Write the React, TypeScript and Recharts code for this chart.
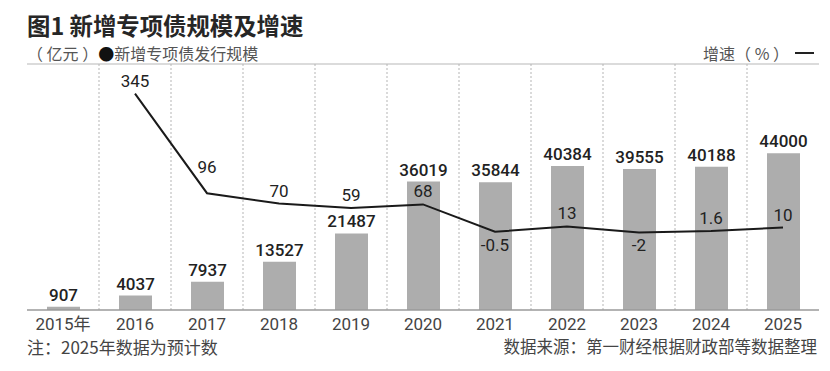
import React from 'react';
import { ComposedChart, Bar, Line, XAxis, YAxis, ReferenceLine, LabelList } from 'recharts';

const categories = ['2015年', '2016', '2017', '2018', '2019', '2020', '2021', '2022', '2023', '2024', '2025'];
const issuance = [907, 4037, 7937, 13527, 21487, 36019, 35844, 40384, 39555, 40188, 44000];
const growth: (number | null)[] = [null, 345, 96, 70, 59, 68, -0.5, 13, -2, 1.6, 10];

const data = categories.map((c, i) => ({ year: c, issuance: issuance[i], growth: growth[i] }));

const NUM_FONT = "Roboto, 'Noto Sans CJK SC', sans-serif";
const CJK_FONT = "'Noto Sans CJK SC', 'Noto Sans', sans-serif";

const GrowthLabel = (props: any) => {
  const { x, y, value } = props;
  if (value == null || x == null || y == null) return null;
  let dy = -7;
  if (value < 0) dy = 19;
  else if (value === 96) dy = -20;
  return (
    <text x={x} y={y + dy} textAnchor="middle" fontFamily={NUM_FONT} fontSize={17} fill="#222">
      {value}
    </text>
  );
};

export default function App() {
  return (
    <div style={{ position: 'absolute', left: 0, top: 0, width: 830, height: 371, background: '#fff', overflow: 'hidden' }}>
      <div style={{ position: 'absolute', left: 27, top: 14, fontFamily: CJK_FONT, fontSize: 23.4, lineHeight: '23px', fontWeight: 700, color: '#262626', whiteSpace: 'nowrap' }}>
        图1 新增专项债规模及增速
      </div>
      <div style={{ position: 'absolute', left: 27, top: 45, fontFamily: CJK_FONT, fontSize: 16, lineHeight: '16px', color: '#555', whiteSpace: 'pre' }}>
        {'（ 亿元 ）'}<span style={{ color: '#111' }}>●</span>新增专项债发行规模
      </div>
      <div style={{ position: 'absolute', right: 16, top: 45, fontFamily: CJK_FONT, fontSize: 16, lineHeight: '16px', color: '#555', whiteSpace: 'pre', display: 'flex', alignItems: 'center' }}>
        <span>{'增速（ % ）'}</span>
        <span style={{ display: 'inline-block', width: 19, height: 2, background: '#222', marginLeft: 6 }} />
      </div>
      <div style={{ position: 'absolute', left: 27, top: 338, fontFamily: CJK_FONT, fontSize: 17, lineHeight: '17px', color: '#444', whiteSpace: 'nowrap' }}>
        注：2025年数据为预计数
      </div>
      <div style={{ position: 'absolute', right: 13, top: 338, fontFamily: CJK_FONT, fontSize: 16.5, lineHeight: '17px', color: '#444', whiteSpace: 'nowrap' }}>
        数据来源：第一财经根据财政部等数据整理
      </div>
      <div style={{ position: 'absolute', left: 0, top: 0 }}>
        <ComposedChart width={830} height={371} data={data} margin={{ top: 64, left: 27, right: 11, bottom: 31 }}>
          <XAxis
            dataKey="year"
            height={30}
            tickLine={false}
            tickSize={0}
            tickMargin={8}
            axisLine={{ stroke: '#9a9a9a', strokeWidth: 1.5 }}
            tick={{ fontFamily: NUM_FONT, fontSize: 17, fill: '#444' }}
            interval={0}
          />
          <YAxis yAxisId="left" domain={[0, 69000]} allowDataOverflow hide />
          <YAxis yAxisId="right" orientation="right" domain={[-196, 419]} allowDataOverflow hide />
          <ReferenceLine yAxisId="left" y={69000} stroke="#cfcfcf" strokeWidth={1.5} ifOverflow="visible" />
          {categories.slice(1).map((c) => (
            <ReferenceLine key={c} yAxisId="left" x={c} position="start" stroke="#b5b5b5" strokeDasharray="2 2" />
          ))}
          <Bar yAxisId="left" dataKey="issuance" fill="#adadad" barSize={33} isAnimationActive={false}>
            <LabelList
              dataKey="issuance"
              position="top"
              offset={6}
              style={{ fontFamily: NUM_FONT, fontSize: 17, fontWeight: 500, fill: '#222' }}
            />
          </Bar>
          <Line
            yAxisId="right"
            dataKey="growth"
            stroke="#1a1a1a"
            strokeWidth={2}
            dot={false}
            activeDot={false}
            type="linear"
            isAnimationActive={false}
          >
            <LabelList dataKey="growth" content={GrowthLabel} />
          </Line>
        </ComposedChart>
      </div>
    </div>
  );
}
